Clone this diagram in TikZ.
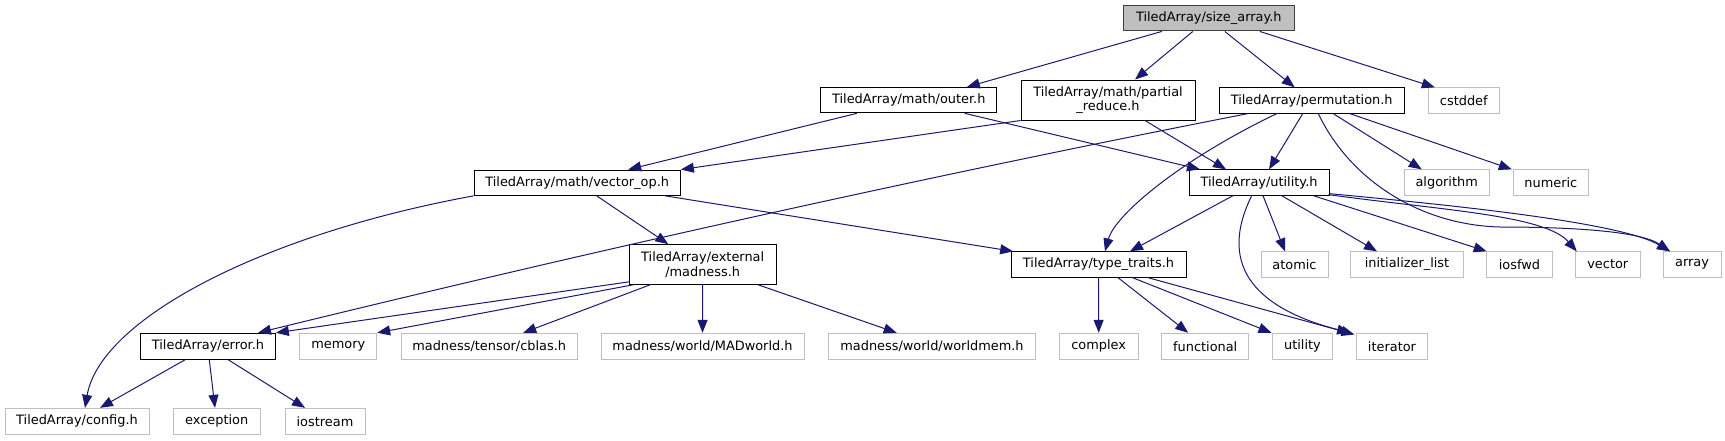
\documentclass[tikz,border=0pt]{standalone}
\usepackage{fontspec}
\setmainfont{DejaVu Sans}
\usetikzlibrary{arrows.meta}
\definecolor{edgeblue}{RGB}{25,25,112}
\definecolor{greyseventyfive}{RGB}{191,191,191}
\definecolor{greytwentyfive}{RGB}{64,64,64}
\begin{document}
\begin{tikzpicture}[x=1pt,y=-1pt,
  box/.style={draw=black, line width=1pt, fill=white, rectangle, inner sep=0pt, align=center,
    font=\fontsize{12.9}{14.7}\selectfont, text=black, minimum height=25.3pt},
  docbox/.style={box},
  extbox/.style={box, draw=greyseventyfive},
  rootbox/.style={box, fill=greyseventyfive, draw=greytwentyfive},
  edge/.style={draw=edgeblue, line width=1pt, -{Triangle[length=13pt,width=10pt]}}
]
\path[use as bounding box] (0,0) rectangle (1725,440);

% row 1
\node[rootbox, minimum width=171pt] (root) at (1208.8,18.3) {TiledArray/size\_array.h};
% row 2
\node[docbox, minimum width=176.3pt] (outer) at (908.8,100.2) {TiledArray/math/outer.h};
\node[docbox, minimum width=174pt, minimum height=40pt] (partial) at (1108,100) {TiledArray/math/partial\\\_reduce.h};
\node[docbox, minimum width=185.3pt] (perm) at (1311.7,100.5) {TiledArray/permutation.h};
\node[extbox, minimum width=71pt] (cstddef) at (1463.8,100.5) {cstddef};
% row 3
\node[docbox, minimum width=206.3pt] (vecop) at (577.2,182.7) {TiledArray/math/vector\_op.h};
\node[docbox, minimum width=140pt] (utilh) at (1259,182.5) {TiledArray/utility.h};
\node[extbox, minimum width=85.3pt] (algorithm) at (1446.7,182.5) {algorithm};
\node[extbox, minimum width=75pt] (numeric) at (1550.8,182.5) {numeric};
% row 4
\node[docbox, minimum width=146.7pt, minimum height=39.7pt] (madness) at (702.7,264.5) {TiledArray/external\\/madness.h};
\node[docbox, minimum width=175pt] (ttraits) at (1098.5,264.5) {TiledArray/type\_traits.h};
\node[extbox, minimum width=67pt] (atomic) at (1294.5,264.5) {atomic};
\node[extbox, minimum width=112.6pt] (initlist) at (1407,264.5) {initializer\_list};
\node[extbox, minimum width=66.4pt] (iosfwd) at (1519.5,264.5) {iosfwd};
\node[extbox, minimum width=64.4pt] (vector) at (1607.8,264.5) {vector};
\node[extbox, minimum width=58pt] (array) at (1692,264.5) {array};
% row 5
\node[docbox, minimum width=134.7pt, minimum height=26pt] (error) at (208,346.3) {TiledArray/error.h};
\node[extbox, minimum width=76.7pt, minimum height=26pt] (memory) at (338.3,346.3) {memory};
\node[extbox, minimum width=176.3pt, minimum height=26pt] (cblas) at (489.2,346.3) {madness/tensor/cblas.h};
\node[extbox, minimum width=203pt, minimum height=26pt] (madworld) at (702.5,346.3) {madness/world/MADworld.h};
\node[extbox, minimum width=207.3pt, minimum height=26pt] (worldmem) at (932,346.3) {madness/world/worldmem.h};
\node[extbox, minimum width=79.3pt, minimum height=26pt] (complex) at (1098.7,346.3) {complex};
\node[extbox, minimum width=87pt, minimum height=26pt] (functional) at (1205.2,346.3) {functional};
\node[extbox, minimum width=60.3pt, minimum height=26pt] (stdutility) at (1302.5,346.3) {utility};
\node[extbox, minimum width=70.7pt, minimum height=26pt] (iterator) at (1392,346.3) {iterator};
% row 6
\node[extbox, minimum width=144pt, minimum height=25.7pt] (config) at (77,421.2) {TiledArray/config.h};
\node[extbox, minimum width=86.7pt, minimum height=25.7pt] (exception) at (216.7,421.2) {exception};
\node[extbox, minimum width=80pt, minimum height=25.7pt] (iostream) at (325,421.2) {iostream};

% edges from size_array
\draw[edge] ([xshift=-47pt]root.south) -- ([xshift=58pt]outer.north);
\draw[edge] ([xshift=-16pt]root.south) -- ([xshift=27pt]partial.north);
\draw[edge] ([xshift=16pt]root.south) -- ([xshift=-17pt]perm.north);
\draw[edge] ([xshift=51pt]root.south) -- ([xshift=-29pt]cstddef.north);
% outer
\draw[edge] ([xshift=-52pt]outer.south) -- ([xshift=51pt]vecop.north);
\draw[edge] ([xshift=56pt]outer.south) -- ([xshift=-59pt]utilh.north);
% partial
\draw[edge] (partial.south west) -- (vecop.north east);
\draw[edge] ([xshift=37pt]partial.south) -- ([xshift=-33pt]utilh.north);
% permutation
\draw[edge] ([xshift=-64pt]perm.south) .. controls (918,178) and (588,252) .. ([xshift=50pt]error.north);
\draw[edge] ([xshift=-35pt]perm.south) .. controls (1180,160) and (1115,215) .. ([xshift=6.5pt]ttraits.north);
\draw[edge] ([xshift=-9pt]perm.south) -- ([xshift=10pt]utilh.north);
\draw[edge] ([xshift=6.6pt]perm.south) .. controls (1350,180) and (1420,225) .. (1500,227)
  .. controls (1570,227) and (1640,231) .. ([xshift=-22pt]array.north);
\draw[edge] ([xshift=21.6pt]perm.south) -- ([xshift=-25pt]algorithm.north);
\draw[edge] ([xshift=38.3pt]perm.south) -- ([xshift=-39pt]numeric.north);
% utility.h
\draw[edge] ([xshift=-26pt]utilh.south) -- ([xshift=31.5pt]ttraits.north);
\draw[edge] ([xshift=-7.3pt]utilh.south) .. controls (1215,270) and (1262,310) .. ([xshift=-6pt]iterator.north west);
\draw[edge] ([xshift=4pt]utilh.south) -- ([xshift=-9.5pt]atomic.north);
\draw[edge] ([xshift=22.7pt]utilh.south) -- ([xshift=-30pt]initlist.north);
\draw[edge] ([xshift=54.3pt]utilh.south) -- ([xshift=-32.8pt]iosfwd.north);
\draw[edge] ([xshift=-1pt,yshift=1pt]utilh.south east) .. controls (1440,210) and (1545,215) .. ([xshift=-31pt]vector.north);
\draw[edge] ([yshift=2pt]utilh.south east) .. controls (1450,205) and (1620,222) .. ([xshift=-22pt]array.north);
% vector_op
\draw[edge] (vecop.south west) .. controls (260,235) and (100,320) .. ([xshift=8pt]config.north);
\draw[edge] ([xshift=19.5pt]vecop.south) -- ([xshift=-34.4pt]madness.north);
\draw[edge] ([xshift=88pt]vecop.south) -- ([xshift=2.7pt]ttraits.north west);
% madness
\draw[edge] ([yshift=3pt]madness.south west) -- (error.north east);
\draw[edge] ([xshift=4pt]madness.south west) -- (memory.north east);
\draw[edge] ([xshift=-52.7pt]madness.south) -- ([xshift=34pt]cblas.north);
\draw[edge] (madness.south) -- (madworld.north);
\draw[edge] ([xshift=55.6pt]madness.south) -- ([xshift=-35.3pt]worldmem.north);
% type_traits
\draw[edge] (ttraits.south) -- (complex.north);
\draw[edge] ([xshift=19.5pt]ttraits.south) -- ([xshift=-17pt]functional.north);
\draw[edge] ([xshift=34pt]ttraits.south) -- ([xshift=-31pt]stdutility.north);
\draw[edge] ([xshift=49.5pt]ttraits.south) -- ([xshift=-1.7pt,yshift=-1.7pt]iterator.north west);
% error
\draw[edge] ([xshift=-23pt]error.south) -- ([xshift=23pt]config.north);
\draw[edge] ([xshift=1.3pt]error.south) -- ([xshift=-1.7pt]exception.north);
\draw[edge] ([xshift=20.3pt]error.south) -- ([xshift=-20pt]iostream.north);
\end{tikzpicture}
\end{document}
